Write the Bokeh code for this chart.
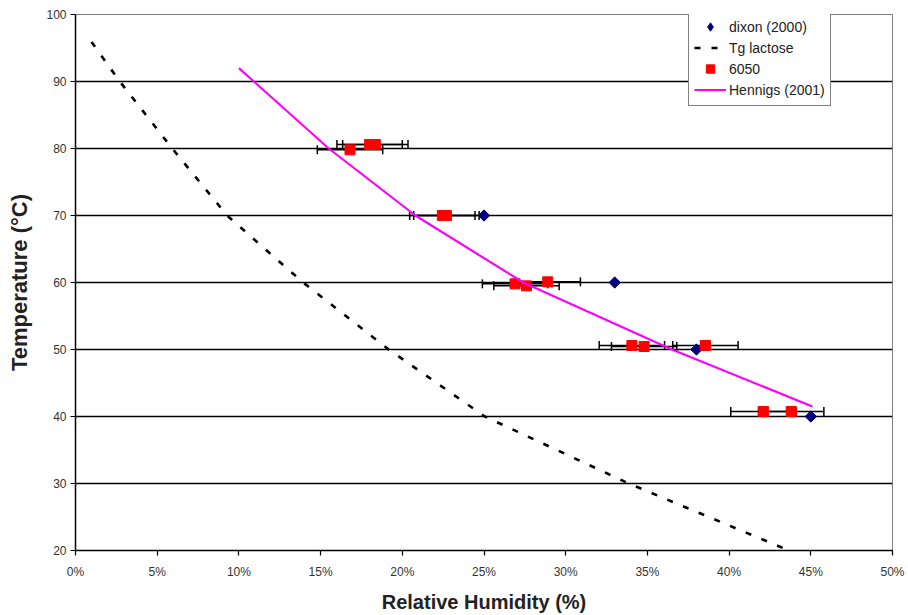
import math

from bokeh.plotting import figure
from bokeh.models import (ColumnDataSource, Whisker, TeeHead, Legend, LegendItem,
                          PrintfTickFormatter, FixedTicker, Range1d)
from bokeh.embed import file_html
from bokeh.resources import INLINE

# Dixon (2000) measurements
dixon_rh = [25.0, 33.0, 38.0, 45.0]
dixon_t = [70.0, 60.0, 50.0, 40.0]

# Sample 6050 with horizontal error (+/- RH %)
rh_6050 = [16.8, 18.0, 18.35, 22.45, 22.7, 26.9, 27.6, 28.9, 34.05, 34.8, 38.55, 42.1, 43.8]
t_6050 = [79.8, 80.6, 80.6, 70.0, 70.0, 59.8, 59.5, 60.1, 50.6, 50.45, 50.6, 40.75, 40.75]
err_6050 = [2.0, 2.0, 2.0, 2.0, 2.0, 2.0, 2.0, 2.0, 2.0, 2.0, 2.0, 2.0, 2.0]

# Glass transition of lactose
tg_rh = [0.98, 2.71, 5.92, 9.28, 13.93, 19.17, 25.05, 33.86, 43.66]
tg_t = [95.9, 90.0, 80.0, 70.0, 60.0, 50.0, 40.0, 30.0, 20.0]

# Hennigs (2001) curve
hen_rh = [10.0, 15.5, 20.8, 27.4, 36.5, 45.1]
hen_t = [92.0, 80.0, 70.0, 60.0, 50.0, 41.5]

x_ticks = [0, 5, 10, 15, 20, 25, 30, 35, 40, 45, 50]
y_ticks = [20, 30, 40, 50, 60, 70, 80, 90, 100]

p = figure(width=908, height=615, x_range=Range1d(0, 50), y_range=Range1d(20, 100),
           output_backend="svg", toolbar_location=None,
           min_border_left=75, min_border_right=16, min_border_top=14, min_border_bottom=65)

p.background_fill_color = "white"
p.border_fill_color = "white"
p.outline_line_color = "#808080"
p.outline_line_width = 1

p.xgrid.grid_line_color = None
p.ygrid.grid_line_color = "black"
p.ygrid.grid_line_width = 1.3

p.xaxis.ticker = FixedTicker(ticks=x_ticks)
p.yaxis.ticker = FixedTicker(ticks=y_ticks)
p.xaxis.formatter = PrintfTickFormatter(format="%d%%")

for ax in (p.xaxis, p.yaxis):
    ax.axis_line_color = "black"
    ax.axis_line_width = 1.5
    ax.major_tick_line_color = "black"
    ax.major_tick_line_width = 1.2
    ax.major_tick_in = 0
    ax.major_tick_out = 5
    ax.minor_tick_line_color = None
    ax.major_label_text_font = "Liberation Sans"
    ax.major_label_text_font_size = "12px"
    ax.major_label_text_color = "#333333"
    ax.axis_label_text_font = "Liberation Sans"
    ax.axis_label_text_font_style = "bold"
    ax.axis_label_text_color = "#222222"

p.xaxis.axis_label = "Relative Humidity (%)"
p.yaxis.axis_label = "Temperature (\u00b0C)"
p.xaxis.axis_label_text_font_size = "20px"
p.yaxis.axis_label_text_font_size = "22px"
p.xaxis.major_label_standoff = 9
p.xaxis.axis_label_standoff = 9
p.yaxis.major_label_standoff = 4
p.yaxis.axis_label_standoff = 11

# dixon (2000): rotated squares
r_dixon = p.scatter(dixon_rh, dixon_t, marker="square", size=8, angle=math.pi / 4,
                    fill_color="#000080", line_color="#000080")
# legend key for the dixon series (a non-finite point, so nothing is plotted)
k_dixon = p.scatter([float("nan")], [float("nan")], marker="diamond", size=8,
                    fill_color="#000080", line_color="#000080")

# Tg lactose
r_tg = p.line(tg_rh, tg_t, line_color="black", line_width=2.6, line_dash="6 11")

# 6050 with error bars
src = ColumnDataSource(data=dict(
    rh=rh_6050, t=t_6050,
    lo=[r - e for r, e in zip(rh_6050, err_6050)],
    hi=[r + e for r, e in zip(rh_6050, err_6050)],
))
whisk = Whisker(source=src, base="t", lower="lo", upper="hi", dimension="width",
                line_color="black", line_width=1.5,
                lower_head=TeeHead(size=9, line_color="black", line_width=1.5),
                upper_head=TeeHead(size=9, line_color="black", line_width=1.5))
p.add_layout(whisk)
r_6050 = p.scatter("rh", "t", source=src, marker="square", size=10,
                   fill_color="#FF0000", line_color="#FF0000")

# Hennigs (2001)
r_hen = p.line(hen_rh, hen_t, line_color="#FF00FF", line_width=2.2)

legend = Legend(items=[
    LegendItem(label="dixon (2000)", renderers=[k_dixon]),
    LegendItem(label="Tg lactose", renderers=[r_tg]),
    LegendItem(label="6050", renderers=[r_6050]),
    LegendItem(label="Hennigs (2001)", renderers=[r_hen]),
], location=(613, 444))
legend.border_line_color = "black"
legend.border_line_width = 1
legend.background_fill_color = "white"
legend.background_fill_alpha = 1
legend.label_text_font = "Liberation Sans"
legend.label_text_font_size = "14px"
legend.label_text_color = "#222222"
legend.glyph_width = 32
legend.glyph_height = 21
legend.label_height = 18
legend.spacing = 0
legend.padding = 5
legend.margin = 0
legend.label_standoff = 3
p.add_layout(legend)

open("out.html", "w").write(file_html(p, INLINE))
